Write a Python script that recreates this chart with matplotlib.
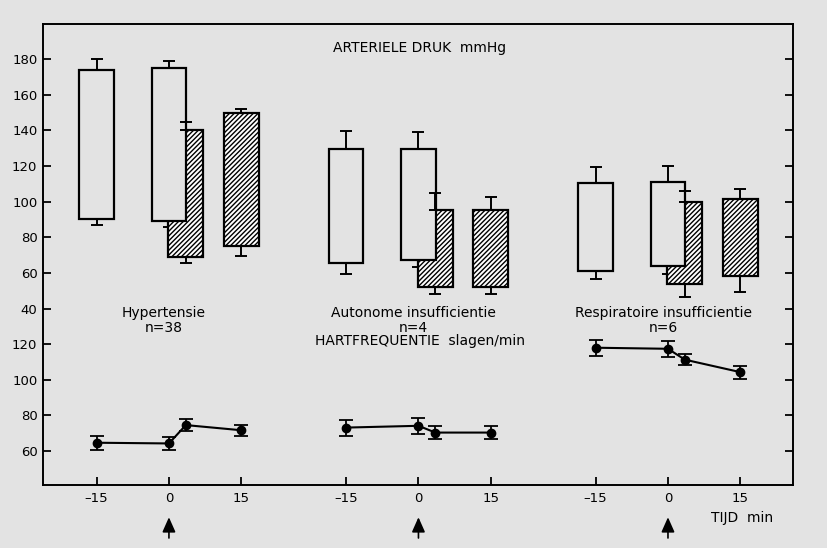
#!/usr/bin/env python3
'''
Arteriele druk en hartfrequentie bij drie patientgroepen
'''

import matplotlib
matplotlib.use('Agg')
import matplotlib.pyplot as plt
from matplotlib.transforms import blended_transform_factory

# Data
groups = ['Hypertensie\nn=38', 'Autonome insufficientie\nn=4', 'Respiratoire insufficientie\nn=6']
tick_times = [-15, 0, 15]
open_times = [-15, 0]
hatch_times = [3.5, 15]
hr_times = [-15, 0, 3.5, 15]

# open bars: systolic top / diastolic bottom, with SEM
sys_open = [[174, 175], [129.5, 129.5], [110.5, 111]]
dia_open = [[90, 89], [65.5, 67], [61, 64]]
sys_open_err = [[6, 4], [10, 9.5], [9, 9]]
dia_open_err = [[3, 3], [6, 3.5], [4.5, 4.5]]

# hatched bars
sys_hatch = [[140, 149.5], [95.5, 95.5], [100, 101.5]]
dia_hatch = [[69, 75], [52, 52], [53.5, 58]]
sys_hatch_err = [[4.5, 2.5], [9.5, 7], [6, 5.5]]
dia_hatch_err = [[3.5, 5.5], [4, 4], [7, 8.5]]

# heart rate
hr_mean = [[64.7, 64.3, 74.6, 71.7], [73.2, 74.2, 70.4, 70.4], [118, 117.4, 111.3, 104.3]]
hr_err = [[3.8, 3.7, 3.3, 3.1], [4.5, 4.5, 3.5, 3.6], [4.5, 4.5, 3.0, 3.6]]

bp_ticks = [40, 60, 80, 100, 120, 140, 160, 180]
hr_ticks = [60, 80, 100, 120]

# Layout
GROUP_OFFSET = 51.7   # minutes between group origins on the shared x axis
HR_SHIFT = 100        # heart rate drawn on pressure scale minus this
BAR_W = 7.2
BG = '#e3e3e3'
FS = 10

plt.rcParams['font.family'] = ['DejaVu Sans']
plt.rcParams['hatch.linewidth'] = 1.0

fig = plt.figure(figsize=(8.28, 5.48), dpi=100, facecolor=BG)
ax = fig.add_axes([0.0519, 0.115, 0.9058, 0.8412], facecolor=BG)
below = blended_transform_factory(ax.transData, ax.transAxes)

ekw = dict(fmt='none', ecolor='black', elinewidth=1.4, capsize=4.5, capthick=1.4)

for g in range(len(groups)):
	off = g * GROUP_OFFSET

	# hatched bars first, the open bar at t=0 covers them
	for i, t in enumerate(hatch_times):
		x = t + off
		ax.bar(x, sys_hatch[g][i] - dia_hatch[g][i], bottom=dia_hatch[g][i], width=BAR_W,
			facecolor='white', edgecolor='black', hatch='///////', linewidth=1.6, zorder=2)
		ax.errorbar(x, sys_hatch[g][i], yerr=[[0], [sys_hatch_err[g][i]]], zorder=4, **ekw)
		ax.errorbar(x, dia_hatch[g][i], yerr=[[dia_hatch_err[g][i]], [0]], zorder=1, **ekw)

	for i, t in enumerate(open_times):
		x = t + off
		ax.bar(x, sys_open[g][i] - dia_open[g][i], bottom=dia_open[g][i], width=BAR_W,
			facecolor=BG, edgecolor='black', linewidth=1.6, zorder=3)
		ax.errorbar(x, sys_open[g][i], yerr=[[0], [sys_open_err[g][i]]], zorder=1, **ekw)
		ax.errorbar(x, dia_open[g][i], yerr=[[dia_open_err[g][i]], [0]], zorder=1, **ekw)

	# heart rate
	hx = [t + off for t in hr_times]
	hy = [v - HR_SHIFT for v in hr_mean[g]]
	ax.errorbar(hx, hy, yerr=hr_err[g], fmt='-o', color='black', ms=6, lw=1.5,
		elinewidth=1.3, capsize=5, capthick=1.3, zorder=5)

	# group label
	ax.text(off - 1, 33.5, groups[g], ha='center', va='center', fontsize=FS, linespacing=1.1)

	# arrow under t=0
	ax.annotate('', xy=(off, -0.07), xytext=(off, -0.115), xycoords=below,
		arrowprops=dict(arrowstyle='-|>,head_length=0.9,head_width=0.4', color='black',
			lw=1.2, shrinkA=0, shrinkB=0),
		annotation_clip=False)

ax.text(52, 186, 'ARTERIELE DRUK  mmHg', ha='center', va='center', fontsize=FS)
ax.text(52, 21.5, 'HARTFREQUENTIE  slagen/min', ha='center', va='center', fontsize=FS)
ax.text(118.7, -0.072, 'TIJD  min', ha='center', va='center', fontsize=FS, transform=below)

# axes
xt = [t + g * GROUP_OFFSET for g in range(len(groups)) for t in tick_times]
ax.set_xticks(xt)
ax.set_xticklabels([str(t).replace('-', '\u2013') for g in groups for t in tick_times])
yt = bp_ticks + [v - HR_SHIFT for v in hr_ticks]
ax.set_yticks(yt)
ax.set_yticklabels([str(v) for v in bp_ticks + hr_ticks])
ax.set_xlim(-26.1, 129.3)
ax.set_ylim(-59, 199.6)
ax.tick_params(direction='in', length=6, width=1.3, labelsize=9.5, right=True, pad=5)
ax.tick_params(axis='y', pad=4)
for s in ax.spines.values():
	s.set_linewidth(1.4)

plt.savefig('out.png', dpi=100, facecolor=BG)
